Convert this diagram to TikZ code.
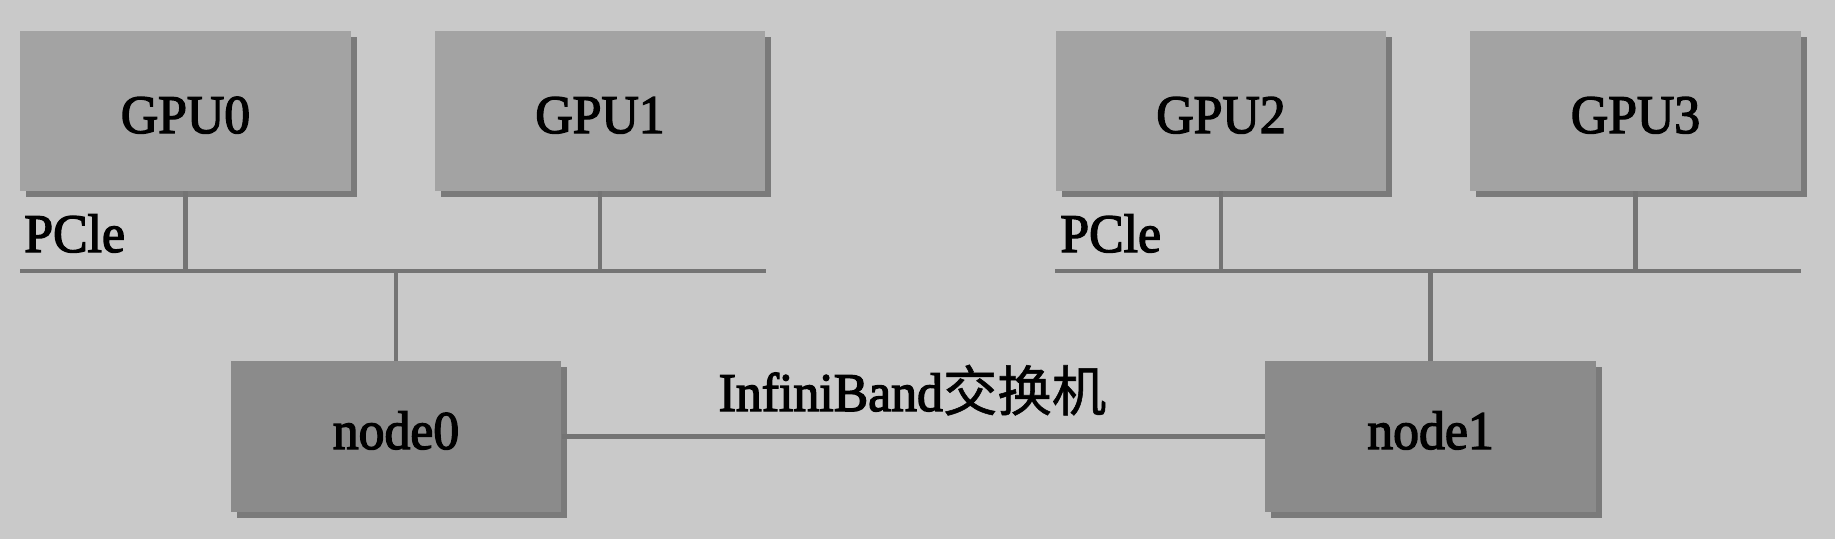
\documentclass[tikz,border=0pt]{standalone}
\usepackage{fontspec}
\setmainfont{Liberation Serif}[FakeBold=2.5, FakeStretch=0.95]
\newfontfamily\cjk{Noto Sans CJK SC}[FakeBold=1]
\usepackage{xcolor}
\usetikzlibrary{positioning,shadows}

\definecolor{bgfill}{RGB}{201,201,201}
\definecolor{gpufill}{RGB}{163,163,163}
\definecolor{hostfill}{RGB}{139,139,139}
\definecolor{shadowgray}{RGB}{122,122,122}
\definecolor{wiregray}{RGB}{116,116,116}

\begin{document}
\begin{tikzpicture}[x=0.02cm,y=-0.02cm]

\tikzset{gpubox/.style={fill=gpufill, minimum width=6.62cm, minimum height=3.2cm, inner sep=0pt,
  text height=0.88cm, text depth=0cm,
  font=\fontsize{31}{36}\selectfont,
  drop shadow={shadow xshift=0.12cm, shadow yshift=-0.12cm, fill=shadowgray, opacity=1}},
hostbox/.style={gpubox, fill=hostfill, minimum height=3.02cm, text height=0.5cm},
wire/.style={draw=wiregray, line width=2.4pt},
buslabel/.style={anchor=base west, inner sep=0pt, font=\fontsize{31}{36}\selectfont}}

\fill[bgfill] (0,0) rectangle (1835,539);
\useasboundingbox (0,0) rectangle (1835,539);

\foreach \n/\x in {0/185.5, 1/600, 2/1221, 3/1635.5}
  \node[gpubox] (gpu\n) at (\x,111) {GPU\n};

\node[hostbox] (node0) at (396,436.5) {node0};
\node[hostbox] (node1) at (1430.5,436.5) {node1};

%PCIe buses
\coordinate (busL) at (20,271);
\coordinate (busLend) at (766,271);
\coordinate (busR) at (1055,271);
\coordinate (busRend) at (1801,271);

\draw[wire] (busL) -- (busLend);
\draw[wire] (busR) -- (busRend);

\foreach \g in {0,1}
  \draw[wire] (gpu\g.south) -- (gpu\g.south |- busL);
\foreach \g in {2,3}
  \draw[wire] (gpu\g.south) -- (gpu\g.south |- busR);

\draw[wire] (node0.north) -- (node0.north |- busL);
\draw[wire] (node1.north) -- (node1.north |- busR);

\node[buslabel] (pcieL) at (24,252) {PCle};
\node[buslabel] (pcieR) at (1060,252) {PCle};

%the switch
\draw[wire] (node0.east) -- (node1.west);
\node[anchor=base, inner sep=0pt, font=\fontsize{31}{36}\selectfont] (ib) at (912.5,411) {InfiniBand{\cjk 交换机}};

\end{tikzpicture}
\end{document}
